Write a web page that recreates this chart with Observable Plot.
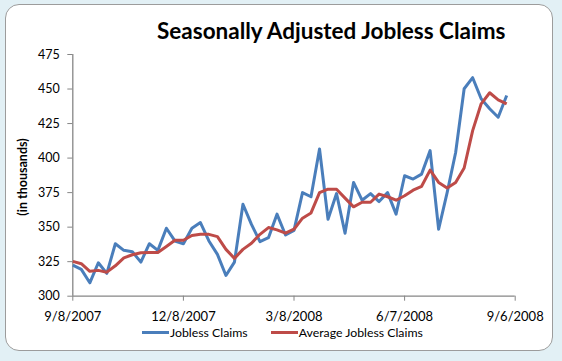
<!DOCTYPE html>
<html><head><meta charset="utf-8">
<script src="https://cdn.jsdelivr.net/npm/d3@7"></script>
<script src="https://cdn.jsdelivr.net/npm/@observablehq/plot@0.6"></script>
<style>
body{margin:0;background:#fff;}
#wrap{position:relative;width:562px;height:361px;background:#e2f0f5;overflow:hidden;font-family:Lato,"Open Sans",sans-serif;color:#000;}
#frame{position:absolute;left:5px;top:4px;width:548px;height:347px;background:#fff;border:1.5px solid #9c9c9c;border-radius:14px;box-sizing:border-box;}
#title{position:absolute;left:157px;top:17px;font-weight:bold;font-size:22.5px;white-space:nowrap;}
#ylab{position:absolute;left:22px;top:177px;font-weight:bold;font-size:12.5px;white-space:nowrap;transform:translate(-50%,-50%) rotate(-90deg);}
#chart{position:absolute;left:0;top:0;}
#legend{position:absolute;left:142px;top:325px;font-size:12.3px;white-space:nowrap;display:flex;align-items:center;}
.sw{display:inline-block;width:27px;height:3px;margin-right:1px;}
</style></head>
<body><div id="wrap"><div id="frame"></div><div id="chart"></div>
<div id="title">Seasonally Adjusted Jobless Claims</div>
<div id="ylab">(in thousands)</div>
<div id="legend"></div>
</div>
<script>
const seriesNames = ["Jobless Claims", "Average Jobless Claims"];
const seriesColors = ["#4a7ebb", "#be4b48"];
const claims = [322.5,319.4,309.7,324.2,316.5,338,333.2,332.2,324.7,338,333.2,349.2,340,338,
  349.2,353.3,340,330.3,315,324.7,366.6,352,339.5,342.4,359.4,344.3,347.7,375,372,
  406.6,355.7,374.3,345.6,382.4,369.5,374.3,368.5,375,359.4,387.2,384.8,388.4,405.4,
  348.5,375,404,450.2,458.2,443,435.7,429.6,445.3];
const avgClaims = [325.2,323.5,318,318.7,317.4,322,327.8,330,331.5,331.7,331.7,336,340.5,340.5,
  344,344.8,344.8,343.1,333.9,327.4,333.9,338.3,344.8,349.7,348,345.6,348.5,356.5,360.3,
  375,377.5,377.5,371,364.7,368,368,373.9,372,369.5,372.7,376.8,379.6,391.3,
  382.4,378.3,382.4,392.8,419.9,439.3,447.3,442.2,439.3];
const xTickWeeks = [0, 13, 26, 39, 52];
const xTickLabels = ["9/8/2007", "12/8/2007", "3/8/2008", "6/7/2008", "9/6/2008"];
const yTicks = [300, 325, 350, 375, 400, 425, 450, 475];

const rows = [];
claims.forEach((v, i) => rows.push({week: i, value: v, series: seriesNames[0]}));
avgClaims.forEach((v, i) => rows.push({week: i, value: v, series: seriesNames[1]}));

const axisColor = "#868686";
const plot = Plot.plot({
  width: 562, height: 361,
  marginLeft: 72.3, marginRight: 47.3, marginTop: 54, marginBottom: 65.3,
  style: {background: "transparent", fontFamily: "Lato, 'Open Sans', sans-serif", overflow: "visible"},
  x: {domain: [0, 52], axis: null},
  y: {domain: [300, 475], axis: null},
  color: {domain: seriesNames, range: seriesColors},
  marks: [
    Plot.ruleY([300], {stroke: axisColor, strokeWidth: 1.3}),
    Plot.ruleX([0], {y1: 300, y2: 475, stroke: axisColor, strokeWidth: 1.3}),
    Plot.axisY({ticks: yTicks, label: null, tickSize: 5, tickPadding: 8, fontSize: 12.5, stroke: axisColor, color: "#000", tickFormat: d => d}),
    Plot.axisX({ticks: xTickWeeks, label: null, tickSize: 5, tickPadding: 11, fontSize: 13, stroke: axisColor, color: "#000",
      tickFormat: d => xTickLabels[xTickWeeks.indexOf(d)]}),
    Plot.line(rows, {x: "week", y: "value", z: "series", stroke: "series", strokeWidth: 3, strokeLinejoin: "round", strokeLinecap: "butt"})
  ]
});
document.getElementById("chart").appendChild(plot);

const legend = document.getElementById("legend");
seriesNames.forEach((name, i) => {
  const item = document.createElement("span");
  item.style.display = "inline-flex";
  item.style.alignItems = "center";
  item.style.marginRight = i === 0 ? "23px" : "0";
  const sw = document.createElement("span");
  sw.className = "sw";
  sw.style.background = seriesColors[i];
  item.appendChild(sw);
  item.appendChild(document.createTextNode(name));
  legend.appendChild(item);
});
</script></body></html>
